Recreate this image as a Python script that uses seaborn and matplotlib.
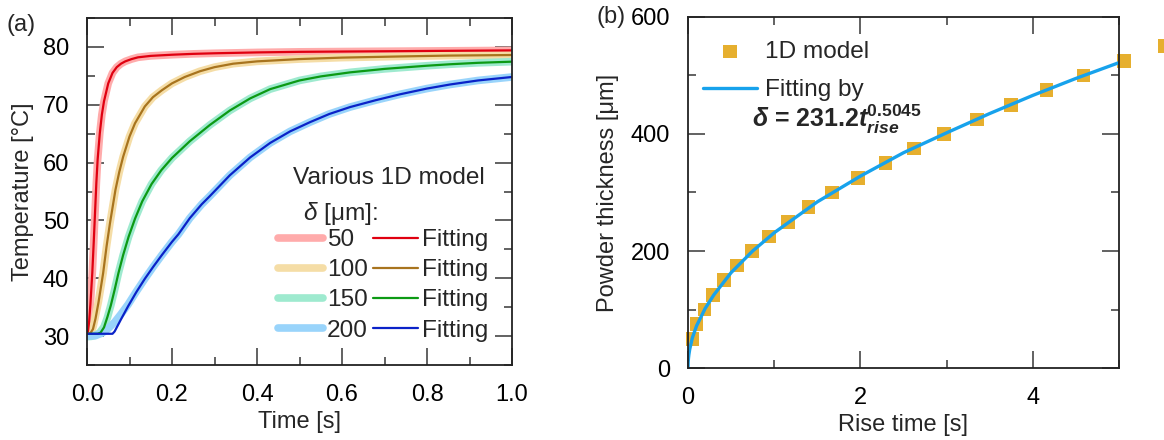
import numpy as np
import pandas as pd
import matplotlib
matplotlib.use("Agg")
import matplotlib.pyplot as plt
import seaborn as sns
from matplotlib.ticker import MultipleLocator

sns.set_style("ticks")
plt.rcParams['font.family'] = ['Liberation Sans', 'DejaVu Sans']
plt.rcParams['mathtext.fontset'] = 'custom'
plt.rcParams['mathtext.rm'] = 'Liberation Sans'
plt.rcParams['mathtext.it'] = 'Liberation Sans:italic'
plt.rcParams['mathtext.bf'] = 'Liberation Sans:bold'
plt.rcParams['mathtext.bfit'] = 'Liberation Sans:italic:bold'

# ---------------- Panel (a) data: temperature vs time ----------------
t_fit50 = [0.0, 0.002, 0.005, 0.008, 0.0125, 0.016, 0.019, 0.022, 0.025, 0.030, 0.035, 0.040,
           0.050, 0.060, 0.070, 0.080, 0.090, 0.105, 0.120, 0.15, 0.20, 0.25, 0.30, 0.40,
           0.50, 0.60, 0.70, 0.80, 0.90, 1.00]
T_fit50 = [30.4, 30.6, 32.5, 35.5, 41.0, 46.5, 51.5, 56.5, 60.5, 65.0, 68.3, 70.6,
           73.7, 75.5, 76.5, 77.1, 77.5, 77.9, 78.2, 78.45, 78.65, 78.8, 78.9, 79.05,
           79.15, 79.2, 79.25, 79.3, 79.35, 79.4]
t_mod50 = [0.0, 0.002, 0.005, 0.008, 0.0125, 0.016, 0.019, 0.022, 0.025, 0.030, 0.035, 0.040,
           0.050, 0.060, 0.070, 0.080, 0.090, 0.105, 0.120, 0.15, 0.20, 0.25, 0.30, 0.40,
           0.50, 0.60, 0.70, 0.80, 0.90, 1.00]
T_mod50 = [30.0, 30.5, 32.6, 35.6, 41.0, 46.5, 51.5, 56.4, 60.4, 65.0, 68.3, 70.6,
           73.7, 75.5, 76.5, 77.1, 77.5, 77.9, 78.2, 78.45, 78.65, 78.8, 78.9, 79.05,
           79.15, 79.2, 79.25, 79.3, 79.35, 79.4]

t_fit100 = [0.0, 0.008, 0.014, 0.020, 0.027, 0.038, 0.046, 0.054, 0.067, 0.076, 0.085, 0.100,
            0.113, 0.136, 0.155, 0.176, 0.20, 0.23, 0.266, 0.30, 0.344, 0.40, 0.50, 0.60,
            0.736, 0.85, 1.00]
T_fit100 = [30.4, 30.5, 31.2, 33.0, 35.8, 40.9, 45.5, 49.5, 55.3, 58.4, 61.0, 64.5,
            66.8, 69.7, 71.3, 72.5, 73.7, 74.8, 75.8, 76.5, 77.1, 77.5, 77.9, 78.15,
            78.35, 78.5, 78.6]
t_mod100 = [0.0, 0.005, 0.010, 0.015, 0.020, 0.027, 0.038, 0.046, 0.054, 0.067, 0.076, 0.085,
            0.100, 0.113, 0.136, 0.155, 0.176, 0.20, 0.23, 0.266, 0.30, 0.344, 0.40, 0.50,
            0.60, 0.736, 0.85, 1.00]
T_mod100 = [30.0, 30.1, 30.6, 31.8, 33.5, 36.0, 40.9, 45.5, 49.5, 55.3, 58.4, 61.0,
            64.5, 66.8, 69.7, 71.3, 72.5, 73.7, 74.8, 75.8, 76.5, 77.1, 77.5, 77.9,
            78.15, 78.35, 78.5, 78.6]

t_fit150 = [0.0, 0.025, 0.032, 0.040, 0.048, 0.056, 0.065, 0.074, 0.085, 0.098, 0.113, 0.13,
            0.152, 0.175, 0.20, 0.242, 0.289, 0.336, 0.384, 0.431, 0.50, 0.55, 0.619, 0.70,
            0.736, 0.80, 0.854, 0.92, 1.00]
T_fit150 = [30.4, 30.4, 30.6, 31.5, 33.3, 35.3, 38.0, 40.9, 44.0, 47.2, 50.3, 53.3,
            56.3, 58.7, 60.8, 63.7, 66.5, 69.0, 71.1, 72.7, 74.2, 74.9, 75.6, 76.2,
            76.4, 76.75, 77.0, 77.25, 77.45]
t_mod150 = [0.0, 0.010, 0.020, 0.030, 0.040, 0.048, 0.056, 0.065, 0.074, 0.085, 0.098, 0.113,
            0.13, 0.152, 0.175, 0.20, 0.242, 0.289, 0.336, 0.384, 0.431, 0.50, 0.55, 0.619,
            0.70, 0.736, 0.80, 0.854, 0.92, 1.00]
T_mod150 = [29.9, 29.95, 30.1, 30.6, 31.6, 33.2, 35.3, 38.0, 40.9, 44.0, 47.2, 50.3,
            53.3, 56.3, 58.7, 60.8, 63.7, 66.5, 69.0, 71.1, 72.7, 74.2, 74.9, 75.6,
            76.2, 76.4, 76.75, 77.0, 77.25, 77.45]

t_fit200 = [0.0, 0.060, 0.065, 0.080, 0.097, 0.116, 0.136, 0.156, 0.176, 0.20, 0.215, 0.242,
            0.27, 0.289, 0.336, 0.384, 0.431, 0.478, 0.525, 0.57, 0.619, 0.68, 0.736, 0.80,
            0.854, 0.92, 1.00]
T_fit200 = [30.4, 30.4, 30.8, 32.9, 35.2, 37.6, 39.9, 42.0, 44.0, 46.3, 47.6, 50.4,
            52.8, 54.2, 57.8, 60.9, 63.4, 65.4, 67.0, 68.4, 69.6, 70.8, 71.8, 72.8,
            73.5, 74.2, 74.8]
t_mod200 = [0.0, 0.020, 0.035, 0.050, 0.065, 0.080, 0.097, 0.116, 0.136, 0.156, 0.176, 0.20,
            0.215, 0.242, 0.27, 0.289, 0.336, 0.384, 0.431, 0.478, 0.525, 0.57, 0.619, 0.68,
            0.736, 0.80, 0.854, 0.92, 1.00]
T_mod200 = [30.0, 30.1, 30.5, 31.3, 32.4, 33.8, 35.5, 37.7, 39.9, 42.0, 44.0, 46.3,
            47.6, 50.4, 52.8, 54.2, 57.8, 60.9, 63.4, 65.4, 67.0, 68.4, 69.6, 70.8,
            71.8, 72.8, 73.5, 74.2, 74.8]

thickness_labels = ["50", "100", "150", "200"]
model_colors = ["#FFABAB", "#F5DDA6", "#9EEACF", "#99D4FB"]
fit_colors = ["#E00010", "#A8741E", "#0C9A14", "#0A22C8"]

# ---------------- Panel (b) data: thickness vs rise time ----------------
rise_time = [0.05, 0.10, 0.19, 0.29, 0.42, 0.57, 0.74, 0.94, 1.16, 1.40, 1.67, 1.97, 2.29,
             2.62, 2.97, 3.35, 3.75, 4.16, 4.59, 5.06, 5.53]
powder_thickness = [50, 75, 100, 125, 150, 175, 200, 225, 250, 275, 300, 325, 350, 375,
                    400, 425, 450, 475, 500, 525, 550]
fit_time = [0.0, 0.002, 0.005, 0.01, 0.02, 0.05, 0.1, 0.2, 0.3, 0.5, 0.75, 1.0, 1.5, 2.0,
            2.5, 3.0, 3.5, 4.0, 4.5, 5.0]
fit_thickness = [0.0, 10.0, 16.0, 22.6, 32.0, 51.3, 72.3, 102.0, 125.0, 163.0, 200.0, 231.2,
                 284.0, 328.0, 368.0, 402.0, 435.0, 466.0, 495.0, 522.0]

FS = 17
LFS = 17.6
fig = plt.figure(figsize=(11.64, 4.4), dpi=100)
axA = fig.add_axes([87/1164, 75/440, 425/1164, 347/440])
axB = fig.add_axes([688/1164, 72/440, 431/1164, 351/440])

mods = [(t_mod50, T_mod50), (t_mod100, T_mod100), (t_mod150, T_mod150), (t_mod200, T_mod200)]
fits = [(t_fit50, T_fit50), (t_fit100, T_fit100), (t_fit150, T_fit150), (t_fit200, T_fit200)]
for (tt, TT), c in zip(mods, model_colors):
    sns.lineplot(x=tt, y=TT, ax=axA, color=c, linewidth=5.5, sort=False,
                 solid_capstyle='round')
for (tt, TT), c in zip(fits, fit_colors):
    sns.lineplot(x=tt, y=TT, ax=axA, color=c, linewidth=1.6, sort=False)

lines = axA.get_lines()
handles = list(lines[:8])
labels = thickness_labels + ["Fitting"] * 4
leg = axA.legend(handles, labels, ncol=2, loc='upper left', bbox_to_anchor=(0.449, 0.392),
                 frameon=False, fontsize=LFS, handlelength=1.85, handletextpad=0.16,
                 columnspacing=0.22, labelspacing=0.33, borderpad=0.0, borderaxespad=0.0)
axA.text(0.485, 0.539, "Various 1D model", transform=axA.transAxes, fontsize=LFS,
         ha='left', va='center')
axA.text(0.508, 0.438, "$\\delta$ [μm]:", transform=axA.transAxes, fontsize=LFS,
         ha='left', va='center')

axA.set_xlim(0, 1)
axA.set_ylim(25, 85)
axA.xaxis.set_major_locator(MultipleLocator(0.2))
axA.xaxis.set_minor_locator(MultipleLocator(0.1))
axA.yaxis.set_major_locator(MultipleLocator(10))
axA.yaxis.set_minor_locator(MultipleLocator(5))
axA.set_xticks([0, 0.2, 0.4, 0.6, 0.8, 1.0])
axA.set_xticklabels(["0.0", "0.2", "0.4", "0.6", "0.8", "1.0"])
axA.set_xlabel("Time [s]", fontsize=FS, labelpad=3)
axA.set_ylabel("Temperature [°C]", fontsize=FS, labelpad=6)

# Panel (b)
sns.scatterplot(x=rise_time, y=powder_thickness, ax=axB, marker='s', s=95, color='#E6AF2E',
                edgecolor='none', linewidth=0, clip_on=False, zorder=1, label="1D model")
sns.lineplot(x=fit_time, y=fit_thickness, ax=axB, color='#17A2EC', linewidth=2.4,
             sort=False, label="Fitting by", zorder=2)
axB.legend(loc='upper left', bbox_to_anchor=(0.01, 0.963), frameon=False, fontsize=LFS,
           handlelength=2.2, handletextpad=0.33, labelspacing=0.66, borderaxespad=0.0,
           borderpad=0.45)
axB.text(0.148, 0.708,
         r"$\mathbfit{\delta}$ = $\mathbf{231.2}\mathbfit{t}_{\mathbfit{rise}}^{\mathbf{0.5045}}$",
         transform=axB.transAxes, fontsize=18, ha='left', va='center', fontweight='bold')
axB.set_xlim(0, 5)
axB.set_ylim(0, 600)
axB.xaxis.set_major_locator(MultipleLocator(2))
axB.xaxis.set_minor_locator(MultipleLocator(1))
axB.yaxis.set_major_locator(MultipleLocator(200))
axB.yaxis.set_minor_locator(MultipleLocator(100))
axB.set_xlabel("Rise time [s]", fontsize=FS, labelpad=3)
axB.set_ylabel("Powder thickness [μm]", fontsize=FS, labelpad=8)

for ax in (axA, axB):
    ax.tick_params(which='both', direction='in', top=True, right=True, colors='#555555',
                   labelcolor='black', labelsize=FS)
    ax.tick_params(which='major', length=12, width=1.3, pad=14)
    ax.tick_params(which='minor', length=6, width=1.3)
    ax.tick_params(axis='y', which='major', pad=13)
    for sp in ax.spines.values():
        sp.set_color('#222222')
        sp.set_linewidth(1.3)

fig.text(6/1164, 1 - 25/440, "(a)", fontsize=FS, ha='left', va='center')
fig.text(596/1164, 1 - 17/440, "(b)", fontsize=FS, ha='left', va='center')

fig.savefig("out.png", dpi=100)
